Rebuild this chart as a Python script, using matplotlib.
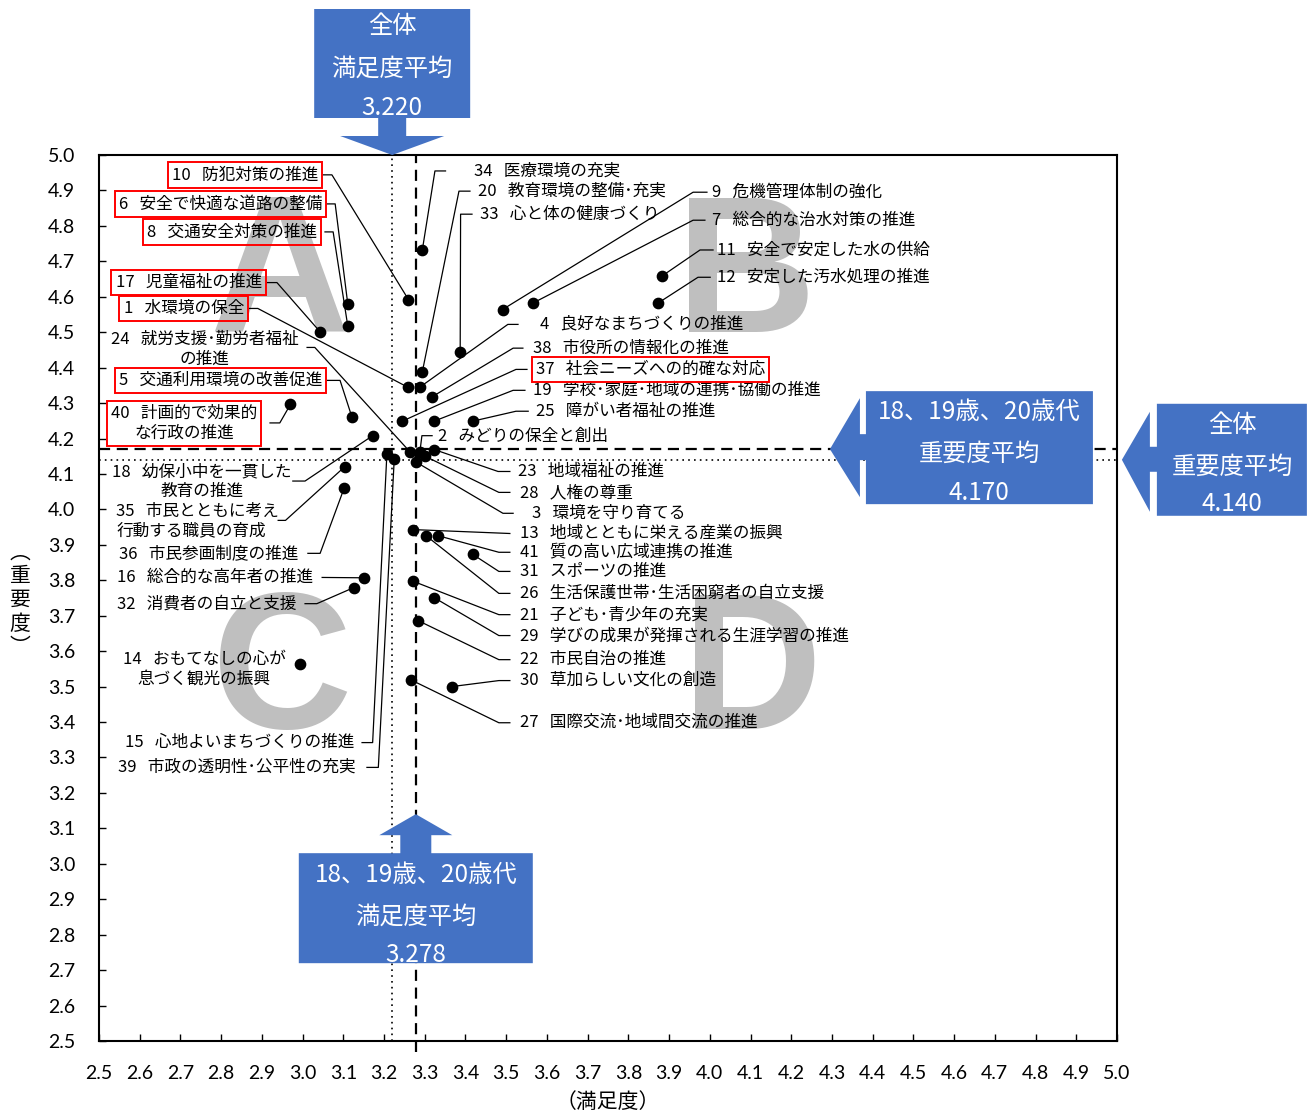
import matplotlib
matplotlib.use("Agg")
import matplotlib.pyplot as plt
from matplotlib.patches import Polygon
from matplotlib.transforms import IdentityTransform

plt.rcParams['font.family'] = ['Noto Sans CJK JP', 'DejaVu Sans']

# 施策番号・施策名・満足度・重要度
ids = list(range(1, 42))
names = [
    "水環境の保全", "みどりの保全と創出", "環境を守り育てる", "良好なまちづくりの推進",
    "交通利用環境の改善促進", "安全で快適な道路の整備", "総合的な治水対策の推進",
    "交通安全対策の推進", "危機管理体制の強化", "防犯対策の推進", "安全で安定した水の供給",
    "安定した汚水処理の推進", "地域とともに栄える産業の振興", "おもてなしの心が\n息づく観光の振興",
    "心地よいまちづくりの推進", "総合的な高年者の推進", "児童福祉の推進",
    "幼保小中を一貫した\n教育の推進", "学校･家庭･地域の連携･協働の推進", "教育環境の整備･充実",
    "子ども･青少年の充実", "市民自治の推進", "地域福祉の推進", "就労支援･勤労者福祉\nの推進",
    "障がい者福祉の推進", "生活保護世帯･生活困窮者の自立支援", "国際交流･地域間交流の推進",
    "人権の尊重", "学びの成果が発揮される生涯学習の推進", "草加らしい文化の創造",
    "スポーツの推進", "消費者の自立と支援", "心と体の健康づくり", "医療環境の充実",
    "市民とともに考え\n行動する職員の育成", "市民参画制度の推進", "社会ニーズへの的確な対応",
    "市役所の情報化の推進", "市政の透明性･公平性の充実", "計画的で効果的\nな行政の推進",
    "質の高い広域連携の推進",
]
sat = [3.258, 3.288, 3.278, 3.288, 3.121, 3.111, 3.567, 3.111, 3.491, 3.260,
       3.882, 3.874, 3.272, 2.994, 3.207, 3.152, 3.043, 3.172, 3.323, 3.294,
       3.272, 3.284, 3.323, 3.264, 3.418, 3.303, 3.266, 3.301, 3.323, 3.366,
       3.418, 3.125, 3.387, 3.294, 3.104, 3.102, 3.245, 3.317, 3.225, 2.970,
       3.332]
imp = [4.345, 4.162, 4.134, 4.345, 4.261, 4.579, 4.583, 4.517, 4.564, 4.592,
       4.658, 4.583, 3.943, 3.564, 4.157, 3.807, 4.501, 4.208, 4.249, 4.388,
       3.797, 3.686, 4.169, 4.162, 4.249, 3.926, 3.519, 4.150, 3.751, 3.500,
       3.873, 3.779, 4.444, 4.732, 4.121, 4.060, 4.249, 4.317, 4.141, 4.296,
       3.926]
boxed = [1, 5, 6, 8, 10, 17, 37, 40]

sat_all, sat_young = 3.220, 3.278
imp_all, imp_young = 4.140, 4.170

# ラベル配置 (x, y, ha, 引出線の経由点)
labels = {
    10: (3.038, 4.944, 'right', [(3.050, 4.944), (3.072, 4.944)]),
    6: (3.048, 4.862, 'right', [(3.060, 4.862), (3.080, 4.862)]),
    8: (3.035, 4.783, 'right', [(3.055, 4.783), (3.075, 4.783)]),
    17: (2.900, 4.640, 'right', [(2.913, 4.640), (2.937, 4.640)]),
    1: (2.856, 4.567, 'right', [(2.866, 4.567), (2.890, 4.567)]),
    24: (2.760, 4.452, 'center', [(3.011, 4.457), (3.030, 4.457)]),
    5: (3.048, 4.364, 'right', [(3.060, 4.364), (3.092, 4.364)]),
    40: (2.709, 4.243, 'center', [(2.920, 4.244), (2.944, 4.244)]),
    18: (2.753, 4.079, 'center', [(2.976, 4.080), (3.006, 4.080)]),
    35: (2.542, 3.966, 'left', [(2.940, 3.969), (2.958, 3.969)]),
    36: (2.989, 3.876, 'right', [(3.013, 3.876), (3.043, 3.876)]),
    16: (3.026, 3.808, 'right', [(3.048, 3.808)]),
    32: (2.984, 3.734, 'right', [(3.006, 3.734), (3.035, 3.734)]),
    14: (2.758, 3.548, 'center', None),
    15: (3.126, 3.342, 'right', [(3.146, 3.342), (3.172, 3.342)]),
    39: (3.131, 3.272, 'right', [(3.158, 3.272), (3.186, 3.272)]),
    34: (3.421, 4.955, 'left', [(3.351, 4.955), (3.325, 4.955)]),
    20: (3.431, 4.898, 'left', [(3.411, 4.898), (3.384, 4.898)]),
    33: (3.436, 4.833, 'left', [(3.416, 4.833), (3.388, 4.833)]),
    9: (4.005, 4.895, 'left', [(3.993, 4.895), (3.959, 4.895)]),
    7: (4.005, 4.816, 'left', [(3.988, 4.816), (3.959, 4.816)]),
    11: (4.018, 4.732, 'left', [(4.008, 4.732), (3.976, 4.732)]),
    12: (4.018, 4.655, 'left', [(4.001, 4.655), (3.971, 4.655)]),
    4: (3.583, 4.522, 'left', [(3.529, 4.522), (3.504, 4.522)]),
    38: (3.566, 4.455, 'left', [(3.541, 4.455), (3.517, 4.455)]),
    37: (3.573, 4.395, 'left', [(3.551, 4.395), (3.524, 4.395)]),
    19: (3.566, 4.336, 'left', [(3.546, 4.336), (3.517, 4.336)]),
    25: (3.573, 4.277, 'left', [(3.554, 4.277), (3.524, 4.277)]),
    2: (3.333, 4.207, 'left', [(3.318, 4.208), (3.293, 4.208)]),
    23: (3.529, 4.107, 'left', [(3.509, 4.107), (3.480, 4.107)]),
    28: (3.534, 4.048, 'left', [(3.509, 4.048), (3.482, 4.048)]),
    3: (3.563, 3.989, 'left', [(3.517, 3.989), (3.492, 3.989)]),
    13: (3.534, 3.932, 'left', [(3.509, 3.932)]),
    41: (3.534, 3.879, 'left', [(3.509, 3.879), (3.482, 3.879)]),
    31: (3.534, 3.825, 'left', [(3.509, 3.825), (3.482, 3.825)]),
    26: (3.534, 3.763, 'left', [(3.509, 3.763), (3.482, 3.763)]),
    21: (3.534, 3.703, 'left', [(3.509, 3.703), (3.482, 3.703)]),
    29: (3.534, 3.644, 'left', [(3.509, 3.644), (3.482, 3.644)]),
    22: (3.534, 3.576, 'left', [(3.509, 3.576), (3.482, 3.576)]),
    30: (3.534, 3.517, 'left', [(3.509, 3.517), (3.482, 3.517)]),
    27: (3.534, 3.398, 'left', [(3.509, 3.398), (3.482, 3.398)]),
}

fig = plt.figure(figsize=(13.13, 11.15), dpi=100)
ax = fig.add_axes([99 / 1313, 1 - 1041 / 1115, 1018 / 1313, 886 / 1115])
ax.set_xlim(2.5, 5.0)
ax.set_ylim(2.5, 5.0)

ticks = [round(2.5 + 0.1 * i, 1) for i in range(26)]
ax.set_xticks(ticks)
ax.set_yticks(ticks)
ax.set_xticklabels([f"{t:.1f}" for t in ticks], family='Lato', fontsize=14)
ax.set_yticklabels([f"{t:.1f}" for t in ticks], family='Lato', fontsize=14)
ax.tick_params(direction='in', length=5, width=1, pad=17)
for s in ax.spines.values():
    s.set_linewidth(1.5)

# 象限の文字
grey = '#bfbfbf'
for ch, x, y in [('A', 2.942, 4.506), ('B', 4.090, 4.500), ('C', 2.951, 3.384), ('D', 4.105, 3.381)]:
    ax.text(x, y, ch, fontsize=140, fontweight='bold', family='Liberation Sans',
            color=grey, ha='center', va='baseline', zorder=0)

# 平均線
ax.plot([sat_young, sat_young], [2.47, 5.0], color='black', lw=1.6, ls=(0, (5, 3)),
        zorder=1, clip_on=False)
ax.axvline(sat_all, color='black', lw=1.2, ls=(0, (1, 2.5)), zorder=1)
ax.axhline(imp_young, color='black', lw=1.6, ls=(0, (5, 3)), zorder=1)
ax.axhline(imp_all, color='black', lw=1.2, ls=(0, (1, 2.5)), zorder=1)

# 引出線とラベル
for i, name, x, y in zip(ids, names, sat, imp):
    lx, ly, ha, path = labels[i]
    if path:
        xs = [p[0] for p in path] + [x]
        ys = [p[1] for p in path] + [y]
        ax.plot(xs, ys, color='black', lw=0.9, zorder=2)
    align = 'left' if ha == 'left' else 'center'
    kw = dict(fontsize=12, ha=ha, va='center', multialignment=align, zorder=4, linespacing=1.2)
    if i in boxed:
        kw['bbox'] = dict(boxstyle='square,pad=0.25', facecolor='none', edgecolor='#ff0000', lw=1.4)
    ax.text(lx, ly, f"{i}   {name}", **kw)

ax.scatter(sat, imp, s=55, color='black', zorder=3)

ax.set_xlabel("（満足度）", fontsize=15, labelpad=7)
fig.text(20 / 1313, 1 - 600 / 1115, "︵\n重\n要\n度\n︶", fontsize=15, ha='center', va='center', linespacing=1.1)

# 吹き出し
blue = '#4472C4'


def callout(tip, shape, texts, offsets):
    tx, ty = ax.transData.transform(tip)
    pts = [(tx + dx, ty - dy) for dx, dy in shape]
    fig.add_artist(Polygon(pts, closed=True, transform=IdentityTransform(),
                           facecolor=blue, edgecolor='none', zorder=10))
    for (dx, dy), s in zip(offsets, texts):
        fig.text(tx + dx, ty - dy, s, transform=IdentityTransform(), color='white',
                 fontsize=17.5, ha='center', va='center', zorder=11)


down = [(0, 0), (52, -19), (14, -19), (14, -37), (78, -37), (78, -146), (-78, -146),
        (-78, -37), (-14, -37), (-14, -19), (-52, -19)]
callout((sat_all, 5.0), down, ["全体", "満足度平均", f"{sat_all:.3f}"],
        [(0, -129), (0, -86), (0, -47)])

up = [(0, 0), (36.5, 21), (15.5, 21), (15.5, 39), (117, 39), (117, 149), (-117, 149),
      (-117, 39), (-15.5, 39), (-15.5, 21), (-36.5, 21)]
callout((sat_young, 3.14), up, ["18、19歳、20歳代", "満足度平均", f"{sat_young:.3f}"],
        [(0, 61), (0, 103), (0, 141)])

left1 = [(0, 0), (30, -51), (30, -15), (36, -15), (36, -58), (263, -58), (263, 55),
         (36, 55), (36, 11), (30, 11), (30, 48)]
callout((4.295, imp_young), left1, ["18、19歳、20歳代", "重要度平均", f"{imp_young:.3f}"],
        [(149.5, -37), (149.5, 5), (149.5, 44)])

left2 = [(0, 0), (28, -48), (28, -13), (35, -13), (35, -56), (185, -56), (185, 56),
         (35, 56), (35, 12), (28, 12), (28, 52)]
callout((5.012, imp_all), left2, ["全体", "重要度平均", f"{imp_all:.3f}"],
        [(110, -35), (110, 7), (110, 44)])

fig.savefig("out.png", dpi=100)
